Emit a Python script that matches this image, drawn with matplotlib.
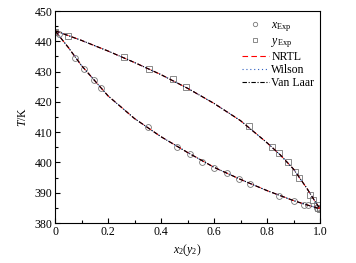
import matplotlib
matplotlib.use("Agg")
import matplotlib.pyplot as plt
from matplotlib.ticker import MultipleLocator, FixedLocator

plt.rcParams['font.family'] = ['Liberation Serif', 'DejaVu Serif']
plt.rcParams['mathtext.fontset'] = 'custom'
plt.rcParams['mathtext.rm'] = 'Liberation Serif'
plt.rcParams['mathtext.it'] = 'Liberation Serif:italic'

# Experimental liquid (x2, T)
x_exp = [0.0, 0.015, 0.077, 0.11, 0.148, 0.174, 0.351, 0.462, 0.509, 0.556, 0.601,
         0.648, 0.693, 0.736, 0.844, 0.903, 0.941, 0.956, 0.987, 1.0]
Tx_exp = [443.0, 442.3, 434.6, 430.9, 427.2, 424.7, 411.8, 405.2, 402.8, 400.2, 398.3,
          396.6, 394.7, 392.8, 389.0, 387.3, 385.9, 385.8, 384.9, 384.7]
# Experimental vapour (y2, T)
y_exp = [0.0, 0.05, 0.26, 0.355, 0.447, 0.494, 0.732, 0.82, 0.846, 0.878, 0.906,
         0.921, 0.962, 0.975, 0.987, 0.994, 1.0]
Ty_exp = [443.0, 441.9, 434.7, 430.8, 427.5, 424.8, 412.0, 405.2, 403.0, 400.3, 397.0,
          394.8, 389.3, 387.6, 386.0, 384.9, 384.7]

# Model curves (bubble and dew lines)
x_model = [0.0, 0.05, 0.1, 0.15, 0.2, 0.3, 0.4, 0.5, 0.6, 0.7, 0.8, 0.9, 0.95, 1.0]
Tx_model = [443.5, 438.0, 432.0, 427.0, 422.0, 414.5, 408.5, 403.3, 398.4, 394.4, 390.7, 387.4, 386.0, 384.7]
y_model = [0.0, 0.1, 0.2, 0.3, 0.4, 0.5, 0.6, 0.7, 0.8, 0.85, 0.9, 0.95, 0.98, 1.0]
Ty_model = [443.5, 440.3, 436.8, 433.0, 429.0, 424.5, 419.5, 413.8, 406.5, 402.5, 397.8, 391.5, 387.3, 384.7]

fig = plt.figure(figsize=(3.56, 2.63), dpi=100)
ax = fig.add_axes([0.1545, 0.152, 0.7445, 0.806])

fs = 8.5
mk = dict(mfc='none', mec='#777777', mew=0.6, ms=4.2, ls='none')
ax.plot(x_exp, Tx_exp, marker='o', label=r'$x_{\rm Exp}$', **mk)
ax.plot(y_exp, Ty_exp, marker='s', label=r'$y_{\rm Exp}$', **mk)

lw = 0.8
for xs, ts, lab in [(x_model, Tx_model, 'NRTL'), (y_model, Ty_model, None)]:
    ax.plot(xs, ts, color='red', ls=(0, (5, 3)), lw=lw, label=lab)
for xs, ts, lab in [(x_model, Tx_model, 'Wilson'), (y_model, Ty_model, None)]:
    ax.plot(xs, ts, color='#3060c0', ls=(0, (1, 2.5)), lw=lw, label=lab)
for xs, ts, lab in [(x_model, Tx_model, 'Van Laar'), (y_model, Ty_model, None)]:
    ax.plot(xs, ts, color='black', ls=(0, (4, 1.5, 1, 1.5)), lw=lw, label=lab)

ax.set_xlim(0, 1.0)
ax.set_ylim(380, 450)
ax.xaxis.set_major_locator(FixedLocator([0, 0.2, 0.4, 0.6, 0.8, 1.0]))
ax.set_xticklabels(['0', '0.2', '0.4', '0.6', '0.8', '1.0'])
ax.xaxis.set_minor_locator(MultipleLocator(0.1))
ax.yaxis.set_major_locator(MultipleLocator(10))
ax.yaxis.set_minor_locator(MultipleLocator(5))
ax.tick_params(which='both', direction='in', top=False, right=False, labelsize=fs, width=0.8, pad=2)
ax.tick_params(which='major', length=3.5)
ax.tick_params(which='minor', length=2)
for s in ax.spines.values():
    s.set_linewidth(0.8)

ax.set_xlabel(r'$x_2$($y_2$)', fontsize=fs, labelpad=3)
ax.set_ylabel(r'$T$/K', fontsize=fs, labelpad=4)

leg = ax.legend(loc='upper right', bbox_to_anchor=(1.01, 1.0), frameon=False, fontsize=fs,
                handlelength=2.3, handletextpad=0.2, labelspacing=0.08, borderpad=0.2,
                markerscale=0.75)

fig.savefig('out.png', dpi=100)
